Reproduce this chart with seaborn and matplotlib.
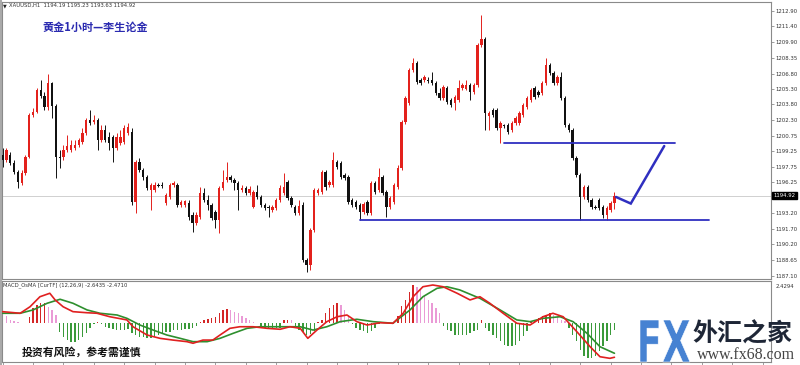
import numpy as np
import pandas as pd
import matplotlib
matplotlib.use("Agg")
import matplotlib.pyplot as plt
import seaborn as sns
from matplotlib.textpath import TextPath
from matplotlib.patches import PathPatch, Rectangle
from matplotlib.font_manager import FontProperties
from matplotlib.transforms import Affine2D, blended_transform_factory

# ---------------- data (XAUUSD H1) ----------------
opens = [1198.88, 1198.39, 1198.88, 1198.10, 1197.22, 1196.15, 1197.12, 1198.68, 1202.77, 1203.06,
         1205.21, 1204.62, 1203.55, 1205.89, 1203.65, 1198.68, 1198.68, 1199.36, 1199.36, 1199.56,
         1199.85, 1200.14, 1201.02, 1202.29, 1202.09, 1202.29, 1200.34, 1201.31, 1200.63, 1200.63,
         1199.56, 1200.05, 1200.14, 1201.02, 1201.12, 1194.30, 1198.20, 1197.42, 1196.74, 1195.47,
         1195.47, 1195.96, 1195.96, 1194.20, 1194.79, 1195.96, 1195.96, 1194.01, 1194.05, 1194.20,
         1193.04, 1192.26, 1192.84, 1195.18, 1194.50, 1194.01, 1193.33, 1192.55, 1195.66, 1196.44,
         1196.74, 1196.44, 1196.15, 1195.47, 1195.66, 1195.18, 1193.81, 1195.27, 1194.79, 1194.01,
         1193.81, 1193.52, 1193.72, 1194.50, 1195.18, 1196.25, 1194.69, 1193.81, 1193.23, 1194.01,
         1188.65, 1188.17, 1191.57, 1195.18, 1195.27, 1197.22, 1195.96, 1195.96, 1198.20, 1198.10,
         1196.93, 1196.74, 1194.50, 1194.30, 1194.01, 1193.33, 1194.30, 1193.23, 1196.15, 1195.47,
         1196.74, 1195.27, 1193.81, 1194.30, 1195.76, 1197.61, 1202.09, 1203.94, 1207.15, 1207.84,
         1206.18, 1206.18, 1206.18, 1206.18, 1205.89, 1204.91, 1204.43, 1205.40, 1204.23, 1203.94,
         1204.23, 1205.40, 1205.35, 1205.69, 1205.01, 1205.69, 1209.59, 1210.17, 1202.68, 1203.26,
         1203.26, 1201.51, 1201.80, 1201.80, 1201.31, 1201.99, 1201.95, 1202.77, 1203.55, 1204.23,
         1205.40, 1205.01, 1204.91, 1205.89, 1207.64, 1206.86, 1205.89, 1206.47, 1204.43, 1201.80,
         1201.31, 1198.59, 1196.93, 1194.79, 1195.76, 1194.50, 1193.81, 1194.50, 1193.81, 1193.04,
         1193.52, 1194.19]
highs = [1199.56, 1199.56, 1199.17, 1198.39, 1197.42, 1197.42, 1198.88, 1202.97, 1203.45, 1205.40,
         1206.18, 1205.01, 1206.76, 1205.99, 1203.84, 1199.36, 1199.85, 1200.83, 1200.34, 1200.34,
         1200.53, 1201.51, 1202.48, 1203.26, 1202.77, 1202.48, 1201.80, 1201.80, 1201.12, 1200.83,
         1201.02, 1201.31, 1201.80, 1201.99, 1201.51, 1198.39, 1198.59, 1197.61, 1196.93, 1196.15,
         1196.25, 1196.15, 1196.25, 1195.18, 1196.15, 1196.35, 1196.15, 1194.50, 1194.50, 1194.50,
         1193.33, 1193.33, 1195.76, 1195.66, 1194.98, 1194.20, 1193.52, 1195.86, 1197.42, 1198.20,
         1196.93, 1196.64, 1196.35, 1195.96, 1195.86, 1195.86, 1195.47, 1195.96, 1194.98, 1194.20,
         1194.01, 1194.01, 1194.69, 1195.96, 1197.12, 1196.44, 1194.89, 1194.01, 1194.50, 1194.30,
         1188.85, 1191.77, 1195.66, 1195.66, 1197.42, 1197.42, 1196.44, 1199.17, 1198.39, 1198.29,
         1197.12, 1196.93, 1194.69, 1194.50, 1194.20, 1194.30, 1194.50, 1196.35, 1196.35, 1197.61,
         1196.93, 1195.47, 1194.89, 1196.15, 1197.90, 1202.29, 1204.62, 1207.35, 1208.32, 1208.03,
         1206.37, 1206.67, 1206.47, 1206.96, 1206.08, 1205.40, 1205.69, 1205.60, 1204.43, 1204.72,
         1206.18, 1205.89, 1206.18, 1205.89, 1205.89, 1209.78, 1212.51, 1210.37, 1203.16, 1203.45,
         1203.45, 1202.19, 1201.90, 1201.99, 1202.19, 1202.68, 1203.16, 1203.94, 1204.62, 1205.40,
         1205.60, 1205.21, 1206.08, 1208.32, 1207.84, 1207.06, 1206.67, 1206.96, 1204.62, 1201.99,
         1201.51, 1198.78, 1197.12, 1195.96, 1195.96, 1194.69, 1194.01, 1194.69, 1194.01, 1193.91,
         1194.40, 1195.23]
lows = [1197.71, 1198.20, 1197.90, 1197.03, 1195.66, 1195.96, 1196.93, 1198.59, 1202.58, 1202.97,
        1204.43, 1203.26, 1203.26, 1202.48, 1196.64, 1197.61, 1198.39, 1199.17, 1199.17, 1199.36,
        1199.66, 1199.95, 1200.83, 1201.80, 1201.90, 1199.36, 1200.14, 1200.14, 1199.36, 1198.20,
        1199.36, 1199.85, 1199.95, 1200.83, 1194.01, 1193.23, 1197.22, 1196.44, 1195.47, 1193.52,
        1195.27, 1195.76, 1195.66, 1194.01, 1194.59, 1195.76, 1193.81, 1193.81, 1193.81, 1192.55,
        1191.38, 1192.06, 1192.65, 1194.30, 1193.52, 1192.55, 1191.77, 1191.28, 1195.47, 1196.25,
        1196.25, 1195.47, 1193.52, 1195.27, 1194.98, 1194.98, 1193.72, 1194.59, 1193.81, 1193.52,
        1192.84, 1193.33, 1193.52, 1194.30, 1194.98, 1194.50, 1193.81, 1193.04, 1193.04, 1188.46,
        1187.49, 1187.68, 1191.38, 1194.98, 1195.08, 1195.47, 1195.76, 1195.76, 1197.51, 1196.54,
        1196.44, 1194.11, 1193.81, 1193.62, 1192.55, 1193.13, 1193.04, 1193.04, 1195.08, 1195.27,
        1194.98, 1192.84, 1193.62, 1194.11, 1195.57, 1197.42, 1201.90, 1203.75, 1206.96, 1205.79,
        1205.69, 1205.99, 1205.89, 1205.69, 1204.72, 1204.23, 1204.23, 1203.84, 1203.55, 1203.26,
        1204.04, 1205.21, 1205.21, 1204.23, 1204.82, 1205.50, 1209.39, 1201.31, 1201.31, 1202.58,
        1201.31, 1200.05, 1201.51, 1200.92, 1201.12, 1201.80, 1201.80, 1202.58, 1203.36, 1204.04,
        1204.33, 1204.52, 1204.72, 1205.69, 1206.67, 1205.69, 1205.69, 1204.23, 1201.60, 1201.12,
        1198.39, 1196.74, 1192.55, 1194.59, 1194.30, 1193.62, 1193.62, 1193.52, 1192.74, 1192.55,
        1193.33, 1193.63]
closes = [1198.39, 1199.36, 1198.10, 1197.22, 1196.25, 1197.12, 1198.68, 1202.77, 1203.06, 1205.21,
          1204.62, 1203.55, 1205.89, 1203.65, 1198.68, 1198.59, 1199.36, 1199.75, 1199.85, 1199.85,
          1200.34, 1201.02, 1202.29, 1201.99, 1202.29, 1200.34, 1201.31, 1200.34, 1200.05, 1199.56,
          1200.63, 1200.63, 1201.51, 1201.60, 1194.30, 1198.20, 1197.42, 1196.74, 1195.66, 1195.96,
          1195.96, 1195.90, 1195.86, 1194.98, 1195.96, 1196.15, 1194.01, 1194.30, 1194.35, 1192.84,
          1192.26, 1193.04, 1195.18, 1194.50, 1194.01, 1192.74, 1192.55, 1195.66, 1196.25, 1196.74,
          1196.44, 1196.15, 1195.47, 1195.66, 1195.18, 1195.57, 1195.27, 1194.79, 1194.01, 1193.72,
          1193.72, 1193.81, 1194.50, 1195.66, 1195.76, 1194.69, 1194.01, 1193.23, 1193.91, 1188.65,
          1188.17, 1191.57, 1195.47, 1195.47, 1197.22, 1195.76, 1196.25, 1198.39, 1197.71, 1196.74,
          1196.64, 1194.30, 1194.01, 1193.81, 1193.33, 1194.11, 1193.23, 1196.15, 1195.27, 1196.74,
          1195.18, 1193.81, 1194.69, 1195.96, 1197.61, 1202.09, 1204.43, 1207.15, 1207.84, 1205.99,
          1205.89, 1206.47, 1206.13, 1205.89, 1204.91, 1204.43, 1205.50, 1204.04, 1203.75, 1204.52,
          1205.40, 1205.69, 1205.72, 1205.01, 1205.69, 1209.59, 1210.17, 1202.97, 1202.97, 1202.77,
          1201.51, 1201.99, 1201.70, 1201.12, 1201.99, 1202.48, 1202.97, 1203.75, 1204.43, 1205.21,
          1204.52, 1204.72, 1205.89, 1207.64, 1206.86, 1205.89, 1206.47, 1204.43, 1201.80, 1201.31,
          1198.59, 1196.93, 1194.79, 1195.76, 1194.50, 1193.81, 1193.76, 1193.72, 1193.04, 1193.72,
          1194.20, 1194.92]

osma = [0.6, 0.55, 0.22, 0.18, 0.05, -0.03, 0.03, 0.47, 1.1, 1.35,
        1.48, 1.5, 1.2, 0.98, 0.6, -0.65, -1.02, -1.28, -1.40, -1.40,
        -1.28, -1.02, -0.78, -0.40, -0.08, 0.05, -0.05, -0.3, -0.38, -0.45,
        -0.5, -0.5, -0.5, -0.45, -0.75, -0.9, -1.02, -1.02, -1.15, -1.15,
        -1.02, -0.9, -0.78, -0.65, -0.65, -0.53, -0.5, -0.5, -0.45, -0.45,
        -0.4, -0.25, 0.1, 0.23, 0.28, 0.35, 0.47, 0.73, 0.98, 1.05,
        0.98, 0.85, 0.73, 0.53, 0.35, 0.23, 0.1, 0.02, -0.25, -0.4,
        -0.4, -0.4, -0.4, -0.35, 0.23, 0.25, 0.2, -0.2, -0.5, -0.7,
        -0.9, -0.85, -0.6, 0.1, 0.25, 0.75, 1.1, 1.35, 1.48, 1.35,
        0.98, 0.6, -0.1, -0.38, -0.5, -0.63, -0.75, -0.63, -0.38, -0.05,
        0.03, -0.03, 0.03, -0.03, 0.5, 1.25, 1.75, 2.35, 2.85, 2.7,
        2.5, 2.1, 1.75, 1.5, 1.1, 0.75, -0.25, -0.5, -0.63, -0.88,
        -0.88, -0.88, -0.88, -0.75, -0.63, -0.5, 0.25, -0.38, -0.63, -0.88,
        -1.13, -1.38, -1.63, -1.75, -1.75, -1.63, -1.38, -1.0, -0.63, 0.13,
        0.25, 0.38, 0.5, 0.63, 0.75, 0.63, 0.5, 0.25, 0.13, -0.38,
        -0.88, -1.38, -2.0, -2.5, -2.63, -2.63, -2.5, -2.13, -1.75, -1.38,
        -0.88, -0.5]

macd_idx = [0, 4.6, 7.2, 9.8, 12.4, 13.8, 15.9, 18.5, 22.2, 24.8, 28.2, 32.7, 34.3, 38.0, 41.4,
            44.8, 48.5, 50.1, 52.7, 55.3, 57.2, 59.8, 62.4, 65.9, 69.6, 73.0, 75.6, 78.3, 80.3, 82.7,
            85.3, 88.0, 90.6, 93.2, 95.9, 99.3, 102.7, 105.4, 108.0, 110.6, 113.2, 115.9, 119.6, 123.0,
            125.6, 128.2, 131.7, 135.3, 138.8, 142.2, 144.8, 147.5, 151.1, 154.6, 157.2, 159.8, 161.0]
macd_val = [0.85, 0.73, 1.22, 1.97, 2.23, 1.73, 1.22, 0.85, 0.77, 0.73, 0.47, 0.23, -0.28, -0.90, -1.15,
            -1.28, -1.40, -1.52, -1.28, -1.28, -0.90, -0.40, -0.28, -0.28, -0.40, -0.47, -0.28, -0.40, -1.15, -0.53,
            0.10, 0.47, 0.60, 0.10, -0.15, 0.02, -0.02, 0.73, 1.97, 2.72, 2.85, 2.72, 2.23, 1.73,
            1.97, 1.48, 0.73, -0.02, -0.15, 0.47, 0.73, 0.47, -0.65, -1.78, -2.53, -2.65, -2.57]
signal_idx = [0, 4.6, 8.0, 11.7, 15.1, 18.5, 22.2, 25.6, 30.1, 32.7, 36.1, 39.6, 43.2, 46.7, 50.1,
              53.8, 57.2, 60.6, 64.3, 67.7, 73.0, 78.3, 81.7, 85.3, 88.8, 93.2, 97.5, 102.7, 107.2, 110.6,
              114.3, 116.9, 120.3, 125.6, 130.9, 135.3, 138.8, 142.2, 146.7, 150.1, 153.8, 157.2, 161.0]
signal_val = [0.73, 0.73, 0.98, 1.48, 1.78, 1.48, 0.98, 0.73, 0.60, 0.35, -0.15, -0.53, -0.90, -1.15, -1.40,
              -1.40, -1.15, -0.78, -0.40, -0.28, -0.28, -0.28, -0.53, -0.28, 0.10, 0.28, 0.10, -0.02, 0.98, 1.97,
              2.60, 2.72, 2.48, 1.85, 0.98, 0.23, 0.10, 0.35, 0.47, 0.10, -0.78, -1.78, -2.27]

price_ticks = [1212.90, 1211.40, 1209.90, 1208.35, 1206.80, 1205.30, 1203.80, 1202.30, 1200.75,
               1199.25, 1197.75, 1196.25, 1193.20, 1191.70, 1190.20, 1188.65, 1187.10]
price_tick_labels = ["1212.90", "1211.40", "1209.90", "1208.35", "1206.80", "1205.30", "1203.80",
                     "1202.30", "1200.75", "1199.25", "1197.75", "1196.25", "1193.20", "1191.70",
                     "1190.20", "1188.65", "1187.10"]
last_price = 1194.92
support_level = 1192.55
support_span = [94, 186]
resist_level = 1200.05
resist_span = [132, 177]
path_idx = [161.4, 165.3, 174.1]
path_price = [1194.79, 1194.15, 1199.75]

header = "XAUUSD,H1  1194.19 1195.23 1193.63 1194.92"
title = "黄金1小时—李生论金"
macd_label = "MACD_OsMA [CurTF] (12,26,9) -2.6435 -2.4710"
risk_note = "投资有风险，参考需谨慎"

# ---------------- style ----------------
sns.set_theme(style="white")
plt.rcParams['font.family'] = ['Noto Sans CJK SC', 'DejaVu Sans']

W, H = 800, 365
fig = plt.figure(figsize=(W / 100, H / 100), dpi=100)
fig.patch.set_facecolor("white")

def box(x0, y0, x1, y1):
    return [x0 / W, (H - y1) / H, (x1 - x0) / W, (y1 - y0) / H]

ax = fig.add_axes(box(2, 2, 771, 279))
ax2 = fig.add_axes(box(2, 281, 771, 362))

df = pd.DataFrame({"open": opens, "high": highs, "low": lows, "close": closes})
df["i"] = np.arange(len(df))
up = df["close"] >= df["open"]
RED = "#e3211c"
BLK = "#111111"
cols = np.where(up, RED, BLK)

ax.vlines(df["i"], df["low"], df["high"], colors=cols, lw=0.7, zorder=2)
body_lo = np.minimum(df["open"], df["close"])
body_h = np.maximum(np.abs(df["close"] - df["open"]), 0.06)
ax.bar(df["i"], body_h, bottom=body_lo, width=0.62, color=cols, linewidth=0, zorder=3)

ax.axhline(last_price, color="#c9c9c9", lw=0.6, zorder=1)
BLUE = "#2f2fc0"
ax.plot(support_span, [support_level] * 2, color=BLUE, lw=1.3, zorder=4)
ax.plot(resist_span, [resist_level] * 2, color=BLUE, lw=1.3, zorder=4)
ax.plot(path_idx, path_price, color=BLUE, lw=1.8, zorder=4, solid_joinstyle="miter")

ax.set_xlim(-0.18, 202.2)
ax.set_ylim(1186.80, 1213.78)
ax.yaxis.tick_right()
ax.set_yticks(price_ticks)
ax.set_yticklabels(price_tick_labels, fontsize=3.9, color="#333333", family="DejaVu Sans")
ax.tick_params(axis="y", direction="out", length=2, width=0.5, color="#777777", pad=1.5, right=True)
ax.set_xticks([])
for s in ax.spines.values():
    s.set_color("#8a8a8a")
    s.set_linewidth(0.8)

tr = blended_transform_factory(ax.transAxes, ax.transData)
ax.text(1.003, last_price, "1194.92", transform=tr, fontsize=3.9, color="white",
        family="DejaVu Sans", va="center", ha="left",
        bbox=dict(boxstyle="square,pad=0.25", fc="black", ec="black"), zorder=6, clip_on=False)

# ---------------- MACD panel ----------------
hist_cols = []
for k, v in enumerate(osma):
    prev = osma[k - 1] if k > 0 else 0
    if v >= 0:
        hist_cols.append("#d42626" if v >= prev else "#ea9ad6")
    else:
        hist_cols.append("#3a9a3a")
ax2.bar(np.arange(len(osma)), osma, width=0.38, color=hist_cols, linewidth=0, zorder=2)

sns.lineplot(x=macd_idx, y=macd_val, ax=ax2, color="#e02020", lw=1.2, estimator=None, zorder=4)
sns.lineplot(x=signal_idx, y=signal_val, ax=ax2, color="#2e8f2e", lw=1.2, estimator=None, zorder=3)

ax2.set_xlim(-0.18, 202.2)
ax2.set_ylim(-2.925, 3.15)
ax2.set_yticks([])
ax2.set_xticks(np.arange(0, 203, 8))
ax2.set_xticklabels([])
ax2.tick_params(axis="x", direction="out", length=3, width=0.5, color="#777777", bottom=True)
ax2.set_xlabel("")
ax2.set_ylabel("")
for s in ax2.spines.values():
    s.set_color("#8a8a8a")
    s.set_linewidth(0.8)
ax2.text(1.006, 0.96, "2.4294", transform=ax2.transAxes, fontsize=3.9, color="#333333",
         family="DejaVu Sans", va="top", ha="left")

# ---------------- texts & watermark ----------------
ov = fig.add_axes([0, 0, 1, 1], facecolor="none")
ov.set_xlim(0, W)
ov.set_ylim(H, 0)
ov.axis("off")

ov.text(3, 5.5, "▼", fontsize=3.5, color="#222222", va="center", ha="left", family="DejaVu Sans")
ov.text(9, 5.5, header, fontsize=3.8, color="#333333", va="center", ha="left", family="DejaVu Sans")
ov.text(42, 27, title, fontsize=8, color="#2a2ab0", fontweight="bold", va="center", ha="left")
ov.text(3, 285, macd_label, fontsize=3.8, color="#333333", va="center", ha="left", family="DejaVu Sans")
ov.text(22, 352, risk_note, fontsize=7.8, color="#111111", fontweight="bold", va="center", ha="left")
ov.plot([0.6, 0.6], [0, H], color="#9a9a9a", lw=1.2)

fp = FontProperties(family="DejaVu Sans", weight="bold")
tp = TextPath((0, 0), "FX", size=10, prop=fp)
bb = tp.get_extents()
sx = (690 - 640) / bb.width
sy = (362 - 320) / bb.height
trans = Affine2D().translate(-bb.x0, -bb.y0).scale(sx, -sy).translate(640, 362) + ov.transData
ov.add_patch(PathPatch(tp, transform=trans, fc="#4682d2", ec="#ffffff", lw=0.4, zorder=10))
ov.text(692, 334, "外汇之家", fontsize=18, color="#1e2636", fontweight="bold",
        va="center", ha="left", zorder=10)
ov.text(697, 355, "www.fx68.com", fontsize=11.5, color="#444444", family="Liberation Serif",
        va="center", ha="left", zorder=10)

fig.savefig("out.png", dpi=100, facecolor="white")
